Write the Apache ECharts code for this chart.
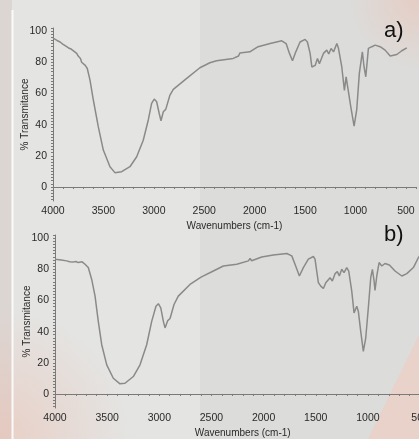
<!DOCTYPE html>
<html>
<head>
<meta charset="utf-8">
<script src="https://cdn.jsdelivr.net/npm/echarts@6/dist/echarts.min.js"></script>
<style>html,body{margin:0;padding:0;background:#e4e4e2;}#c{width:419px;height:439px;}</style>
</head>
<body>
<div id="c"></div>
<script>
// Panel a) spectrum
const aWn = [4000,3960,3930,3900,3864,3840,3820,3800,3785,3765,3750,3740,3728,3716,3700,3680,3660,3633,3600,3551,3501,3435,3386,3319,3237,3170,3105,3055,3022,2996,2972,2946,2929,2906,2882,2866,2840,2807,2674,2543,2444,2378,2213,2160,2147,2130,2048,1966,1847,1731,1688,1655,1625,1592,1550,1500,1477,1450,1433,1400,1377,1358,1318,1285,1265,1242,1218,1185,1169,1136,1110,1093,1076,1047,1014,988,962,932,915,898,872,838,805,756,706,656,590,541,491];
const aT  = [95.5,94,93,91.5,90,89,88.5,87.5,87.8,85.7,84,84.5,82.5,80,79.5,78,76,68.6,55.8,38.7,23.7,13,9.2,9.8,13,19.4,30,43,53.6,56.4,54.7,47,42.5,48.3,49.8,49.4,59,62.6,69.7,76.5,79.7,81,82.5,84,86,85,86.7,90,92,93.8,92,85.7,81,86.7,93,94.7,93,85.7,77,78,82.5,79,85.7,87.8,85.3,88.9,86.7,92,89,77,62,70.7,69.7,51.5,39,49.4,72.9,86.7,77,70.7,88.9,90,91,90,87.8,84,85,87.4,89.3];
// Panel b) spectrum
const bWn = [4000,3940,3888,3860,3830,3800,3777,3760,3740,3712,3681,3648,3616,3585,3552,3504,3441,3377,3329,3249,3185,3121,3073,3032,3009,2986,2961,2945,2919,2897,2881,2859,2818,2706,2600,2482,2386,2258,2146,2130,2115,2018,1907,1778,1730,1699,1657,1644,1619,1571,1523,1507,1491,1475,1452,1427,1404,1389,1363,1341,1315,1293,1274,1251,1229,1203,1184,1155,1133,1120,1107,1092,1069,1044,1021,996,973,957,941,932,915,893,867,836,794,740,675,627,564,516,490];
const bT  = [86.5,86,85.4,84.8,84.6,85,84.3,85.2,84.8,83.2,81.1,73.5,62.8,46.6,31.6,18.7,10.1,6.5,6.9,11.2,18.7,31.6,46.6,56.3,57.9,55.3,46.6,42.4,47.1,48.4,47.7,57.4,62.8,70.3,75,78.9,82.1,83.2,85.4,86.9,85.5,87.9,89.2,90.1,88.6,83.2,75.7,75,81.1,86.5,88.2,86.5,78.9,71.4,69.2,67.7,71.4,70.3,74.6,72.5,77.2,78.5,75.7,80,77.9,81.1,78.9,66,52,51,56.3,53.1,40.2,27.3,35.9,55.3,74.6,80,72.5,66.5,75.7,84.3,82.1,83.7,82.8,78.9,75.7,77.2,81.1,87.5,90];
const xLabels = [4000,3500,3000,2500,2000,1500,1000,500];
const yLabels = [0,20,40,60,80,100];
const xTicks = []; for (let v = 4000; v >= 400; v -= 100) xTicks.push(v);
const yTicks = []; for (let v = -8; v <= 102; v += 2) yTicks.push(v);

const axisColor = '#7a7a7a';
const txt = '#2a2a2a';
const font = 'Liberation Sans';

function xAx(idx){
  return {
    type:'value', gridIndex:idx, inverse:true, min:400, max:4000,
    name:'Wavenumbers (cm-1)', nameLocation:'middle', nameGap:20, nameMoveOverlap:false,
    nameTextStyle:{color:txt, fontSize:10, fontFamily:font},
    axisLine:{lineStyle:{color:axisColor, width:1}},
    axisTick:{customValues:xTicks, length:2, lineStyle:{color:axisColor}},
    axisLabel:{customValues:xLabels, formatter:(v)=>String(v), color:txt, fontSize:10.5, fontFamily:font, margin:5, hideOverlap:false},
    splitLine:{show:false}
  };
}
function yAx(idx){
  return {
    type:'value', gridIndex:idx, min:-9, max:102,
    name:'% Transmitance', nameLocation:'middle', nameGap:23, nameRotate:90, nameMoveOverlap:false,
    nameTextStyle:{color:txt, fontSize:10, fontFamily:font},
    axisLine:{show:true, lineStyle:{color:axisColor, width:1}},
    axisTick:{show:true, customValues:yTicks, length:2, lineStyle:{color:axisColor}},
    axisLabel:{customValues:yLabels, formatter:(v)=>String(v), color:txt, fontSize:10.5, fontFamily:font, margin:6},
    splitLine:{show:false}
  };
}

const chart = echarts.init(document.getElementById('c'), null, {renderer:'canvas'});
chart.setOption({
  backgroundColor:'#e4e4e2',
  animation:false,
  graphic:[
    {type:'rect', z:-10, silent:true, shape:{x:200,y:0,width:219,height:439}, style:{fill:'#dcdcda'}},
    {type:'rect', z:-10, silent:true, shape:{x:0,y:0,width:12,height:439}, style:{fill:'#dcd6d3'}},
    {type:'circle', z:-9, silent:true, shape:{cx:0,cy:439,r:130}, style:{fill:{type:'radial',x:0.5,y:0.5,r:0.5,colorStops:[{offset:0,color:'rgba(236,190,175,0.55)'},{offset:1,color:'rgba(236,190,175,0)'}]}}},
    {type:'circle', z:-9, silent:true, shape:{cx:419,cy:0,r:70}, style:{fill:{type:'radial',x:0.5,y:0.5,r:0.5,colorStops:[{offset:0,color:'rgba(236,195,182,0.6)'},{offset:1,color:'rgba(236,195,182,0)'}]}}},
    {type:'polygon', z:-9, silent:true, shape:{points:[[419,335],[419,439],[368,439]]}, style:{fill:'rgba(234,208,198,0.85)'}},
    {type:'line', z:-8, silent:true, shape:{x1:12.5,y1:10,x2:12.5,y2:439}, style:{stroke:'#fafafa', lineWidth:2}},
    {type:'text', z:10, left:384, top:20, style:{text:'a)', fontSize:22, fontFamily:font, fill:'#111'}},
    {type:'text', z:10, left:384, top:224, style:{text:'b)', fontSize:22, fontFamily:font, fill:'#111'}}
  ],
  grid:[
    {left:53, width:363, top:28, height:173, outerBoundsMode:'none', containLabel:false},
    {left:55, width:375.5, top:235, height:173, outerBoundsMode:'none', containLabel:false}
  ],
  xAxis:[xAx(0), xAx(1)],
  yAxis:[yAx(0), yAx(1)],
  series:[
    {type:'line', xAxisIndex:0, yAxisIndex:0, showSymbol:false, data:aWn.map((w,i)=>[w,aT[i]]), lineStyle:{color:'#8a8a8a', width:1.5}},
    {type:'line', xAxisIndex:1, yAxisIndex:1, showSymbol:false, data:bWn.map((w,i)=>[w,bT[i]]), lineStyle:{color:'#8a8a8a', width:1.5}}
  ]
});
</script>
</body>
</html>
